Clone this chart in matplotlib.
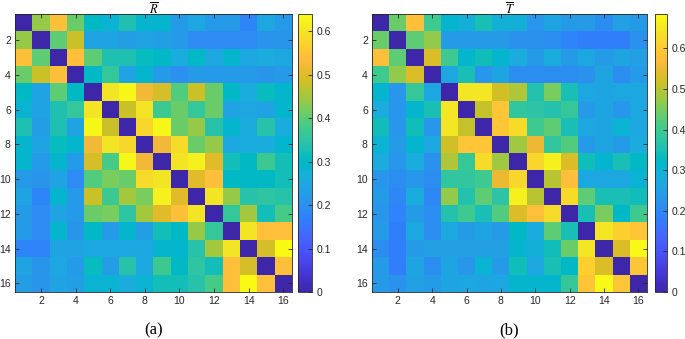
import numpy as np
import matplotlib
matplotlib.use("Agg")
import matplotlib.pyplot as plt
from matplotlib.colors import LinearSegmentedColormap

# ---------------- data ----------------
labels = list(range(1, 17))
tick_values = [2, 4, 6, 8, 10, 12, 14, 16]
cbar_ticks = [0, 0.1, 0.2, 0.3, 0.4, 0.5, 0.6]
clim_R = (0.0, 0.64)
clim_T = (0.0, 0.685)

R_values = [
    [0.00, 0.44, 0.54, 0.41, 0.30, 0.28, 0.33, 0.29, 0.29, 0.22, 0.25, 0.22, 0.22, 0.18, 0.25, 0.22],
    [0.44, 0.00, 0.40, 0.48, 0.24, 0.24, 0.23, 0.24, 0.23, 0.22, 0.19, 0.19, 0.19, 0.19, 0.21, 0.21],
    [0.54, 0.40, 0.00, 0.54, 0.40, 0.33, 0.33, 0.31, 0.30, 0.26, 0.30, 0.25, 0.29, 0.25, 0.26, 0.25],
    [0.41, 0.48, 0.54, 0.00, 0.30, 0.36, 0.24, 0.29, 0.22, 0.20, 0.22, 0.22, 0.22, 0.22, 0.21, 0.22],
    [0.30, 0.24, 0.40, 0.30, 0.00, 0.60, 0.63, 0.52, 0.49, 0.39, 0.48, 0.41, 0.30, 0.26, 0.31, 0.29],
    [0.28, 0.24, 0.33, 0.36, 0.60, 0.00, 0.48, 0.60, 0.37, 0.41, 0.36, 0.41, 0.24, 0.25, 0.24, 0.29],
    [0.33, 0.23, 0.33, 0.24, 0.63, 0.48, 0.00, 0.58, 0.63, 0.41, 0.44, 0.34, 0.29, 0.26, 0.34, 0.26],
    [0.29, 0.24, 0.31, 0.29, 0.52, 0.60, 0.58, 0.00, 0.52, 0.59, 0.41, 0.44, 0.25, 0.26, 0.26, 0.29],
    [0.29, 0.22, 0.29, 0.22, 0.49, 0.38, 0.63, 0.52, 0.00, 0.60, 0.62, 0.50, 0.32, 0.30, 0.37, 0.32],
    [0.22, 0.21, 0.24, 0.19, 0.39, 0.42, 0.41, 0.59, 0.60, 0.00, 0.50, 0.54, 0.30, 0.30, 0.30, 0.32],
    [0.24, 0.18, 0.29, 0.22, 0.48, 0.37, 0.45, 0.42, 0.62, 0.50, 0.00, 0.60, 0.44, 0.34, 0.35, 0.34],
    [0.22, 0.19, 0.24, 0.22, 0.41, 0.42, 0.35, 0.45, 0.50, 0.54, 0.60, 0.00, 0.36, 0.45, 0.32, 0.38],
    [0.22, 0.19, 0.29, 0.21, 0.30, 0.22, 0.29, 0.23, 0.32, 0.30, 0.44, 0.36, 0.00, 0.60, 0.54, 0.54],
    [0.18, 0.18, 0.24, 0.24, 0.25, 0.25, 0.25, 0.25, 0.29, 0.29, 0.34, 0.45, 0.60, 0.00, 0.49, 0.64],
    [0.24, 0.21, 0.25, 0.22, 0.31, 0.23, 0.34, 0.25, 0.37, 0.30, 0.35, 0.32, 0.54, 0.49, 0.00, 0.54],
    [0.23, 0.21, 0.24, 0.23, 0.28, 0.28, 0.26, 0.28, 0.32, 0.32, 0.34, 0.38, 0.54, 0.64, 0.54, 0.00],
]

T_values = [
    [0.00, 0.44, 0.58, 0.40, 0.31, 0.29, 0.35, 0.29, 0.29, 0.23, 0.26, 0.24, 0.24, 0.21, 0.25, 0.24],
    [0.44, 0.00, 0.43, 0.47, 0.24, 0.24, 0.24, 0.24, 0.22, 0.22, 0.21, 0.19, 0.18, 0.18, 0.18, 0.22],
    [0.58, 0.43, 0.00, 0.53, 0.40, 0.31, 0.34, 0.31, 0.28, 0.24, 0.28, 0.24, 0.27, 0.24, 0.26, 0.25],
    [0.40, 0.47, 0.53, 0.00, 0.27, 0.35, 0.23, 0.26, 0.21, 0.21, 0.21, 0.21, 0.22, 0.26, 0.21, 0.24],
    [0.31, 0.23, 0.39, 0.27, 0.00, 0.645, 0.645, 0.52, 0.49, 0.36, 0.45, 0.35, 0.27, 0.26, 0.27, 0.27],
    [0.28, 0.23, 0.31, 0.35, 0.645, 0.00, 0.51, 0.59, 0.38, 0.37, 0.36, 0.39, 0.24, 0.26, 0.23, 0.27],
    [0.34, 0.23, 0.34, 0.23, 0.645, 0.51, 0.00, 0.59, 0.63, 0.40, 0.43, 0.35, 0.27, 0.26, 0.30, 0.27],
    [0.30, 0.24, 0.31, 0.27, 0.52, 0.59, 0.59, 0.00, 0.48, 0.55, 0.38, 0.42, 0.24, 0.26, 0.24, 0.28],
    [0.28, 0.23, 0.28, 0.22, 0.49, 0.39, 0.63, 0.48, 0.00, 0.62, 0.665, 0.53, 0.34, 0.31, 0.35, 0.32],
    [0.23, 0.21, 0.23, 0.21, 0.38, 0.38, 0.40, 0.55, 0.62, 0.00, 0.50, 0.58, 0.27, 0.27, 0.27, 0.30],
    [0.24, 0.20, 0.28, 0.20, 0.47, 0.36, 0.43, 0.37, 0.665, 0.50, 0.00, 0.63, 0.43, 0.35, 0.35, 0.34],
    [0.23, 0.19, 0.24, 0.21, 0.36, 0.40, 0.35, 0.42, 0.53, 0.58, 0.63, 0.00, 0.35, 0.45, 0.32, 0.40],
    [0.24, 0.18, 0.27, 0.21, 0.27, 0.24, 0.26, 0.24, 0.32, 0.28, 0.43, 0.35, 0.00, 0.645, 0.61, 0.59],
    [0.21, 0.18, 0.24, 0.25, 0.25, 0.25, 0.25, 0.25, 0.31, 0.29, 0.34, 0.44, 0.645, 0.00, 0.53, 0.68],
    [0.24, 0.18, 0.26, 0.21, 0.26, 0.23, 0.30, 0.24, 0.34, 0.27, 0.35, 0.32, 0.61, 0.53, 0.00, 0.59],
    [0.24, 0.22, 0.25, 0.24, 0.26, 0.27, 0.26, 0.27, 0.31, 0.31, 0.31, 0.39, 0.59, 0.68, 0.59, 0.00],
]

titles = [r"$\overline{R}$", r"$\overline{T}$"]
panel_labels = ["(a)", "(b)"]

# ---------------- parula colormap ----------------
parula_data = [
    [0.2422, 0.1504, 0.6603], [0.2504, 0.1650, 0.7076], [0.2578, 0.1818, 0.7511],
    [0.2647, 0.1978, 0.7952], [0.2706, 0.2147, 0.8364], [0.2751, 0.2342, 0.8710],
    [0.2783, 0.2559, 0.8991], [0.2803, 0.2782, 0.9221], [0.2813, 0.3006, 0.9414],
    [0.2810, 0.3228, 0.9579], [0.2795, 0.3447, 0.9717], [0.2760, 0.3667, 0.9829],
    [0.2699, 0.3892, 0.9906], [0.2602, 0.4123, 0.9952], [0.2440, 0.4358, 0.9988],
    [0.2206, 0.4603, 0.9973], [0.1963, 0.4847, 0.9892], [0.1834, 0.5074, 0.9798],
    [0.1786, 0.5289, 0.9682], [0.1764, 0.5499, 0.9520], [0.1687, 0.5703, 0.9359],
    [0.1540, 0.5902, 0.9218], [0.1460, 0.6091, 0.9079], [0.1380, 0.6276, 0.8973],
    [0.1248, 0.6459, 0.8883], [0.1113, 0.6635, 0.8763], [0.0952, 0.6798, 0.8598],
    [0.0689, 0.6948, 0.8394], [0.0297, 0.7082, 0.8163], [0.0036, 0.7203, 0.7917],
    [0.0067, 0.7312, 0.7660], [0.0433, 0.7411, 0.7394], [0.0964, 0.7500, 0.7120],
    [0.1408, 0.7584, 0.6842], [0.1717, 0.7670, 0.6554], [0.1938, 0.7758, 0.6251],
    [0.2161, 0.7843, 0.5923], [0.2470, 0.7918, 0.5567], [0.2906, 0.7973, 0.5188],
    [0.3406, 0.8008, 0.4789], [0.3909, 0.8029, 0.4354], [0.4456, 0.8024, 0.3909],
    [0.5044, 0.7993, 0.3480], [0.5616, 0.7942, 0.3045], [0.6174, 0.7876, 0.2612],
    [0.6720, 0.7793, 0.2227], [0.7242, 0.7698, 0.1910], [0.7738, 0.7598, 0.1646],
    [0.8203, 0.7498, 0.1535], [0.8634, 0.7406, 0.1596], [0.9035, 0.7330, 0.1774],
    [0.9393, 0.7288, 0.2100], [0.9728, 0.7298, 0.2394], [0.9956, 0.7434, 0.2371],
    [0.9970, 0.7659, 0.2199], [0.9952, 0.7893, 0.2028], [0.9892, 0.8136, 0.1885],
    [0.9786, 0.8386, 0.1766], [0.9676, 0.8639, 0.1643], [0.9610, 0.8890, 0.1537],
    [0.9597, 0.9135, 0.1423], [0.9628, 0.9373, 0.1265], [0.9691, 0.9606, 0.1064],
    [0.9769, 0.9839, 0.0805],
]
parula = LinearSegmentedColormap.from_list("parula", parula_data, N=256)

# ---------------- figure ----------------
plt.rcParams["font.family"] = ["Liberation Sans", "DejaVu Sans"]
plt.rcParams["mathtext.fontset"] = "stix"

W, H = 685, 339
fig = plt.figure(figsize=(W / 100, H / 100), dpi=100)

edge = (0.15, 0.15, 0.15)

def fx(px):
    return px / W

def fy(px_top, px_bottom):
    return (H - px_bottom) / H, (px_bottom - px_top) / H

panels = [
    dict(data=R_values, clim=clim_R, ax=(15, 292), cax=(298, 312)),
    dict(data=T_values, clim=clim_T, ax=(372, 647), cax=(655, 667)),
]

top_px, bot_px = 14, 292
b, h = fy(top_px, bot_px)

for i, p in enumerate(panels):
    x0, x1 = p["ax"]
    ax = fig.add_axes([fx(x0), b, fx(x1 - x0), h])
    n = len(labels)
    im = ax.imshow(np.array(p["data"]), cmap=parula, vmin=p["clim"][0], vmax=p["clim"][1],
                   extent=(0.5, n + 0.5, n + 0.5, 0.5), aspect="auto", interpolation="nearest")
    ax.set_xticks(tick_values)
    ax.set_yticks(tick_values)
    ax.tick_params(direction="in", length=3, width=0.6, color=edge, labelsize=7.5,
                   labelcolor=edge, top=True, right=True, pad=3)
    for s in ax.spines.values():
        s.set_color(edge)
        s.set_linewidth(0.6)
    fig.text(fx((x0 + x1) / 2), (H - 2) / H, titles[i], ha="center", va="top",
             fontsize=9, color="black")

    c0, c1 = p["cax"]
    cax = fig.add_axes([fx(c0), b, fx(c1 - c0), h])
    cb = fig.colorbar(im, cax=cax)
    cb.set_ticks(cbar_ticks)
    cb.set_ticklabels(["0", "0.1", "0.2", "0.3", "0.4", "0.5", "0.6"])
    cax.tick_params(direction="in", length=3, width=0.6, color=edge, labelsize=7.5,
                    labelcolor=edge, pad=3)
    cb.outline.set_edgecolor(edge)
    cb.outline.set_linewidth(0.6)

    fig.text(fx((x0 + x1) / 2), (H - 330) / H, panel_labels[i], ha="center", va="center",
             fontsize=12, family=["Liberation Serif", "DejaVu Serif"])

fig.savefig("out.png", dpi=100)
